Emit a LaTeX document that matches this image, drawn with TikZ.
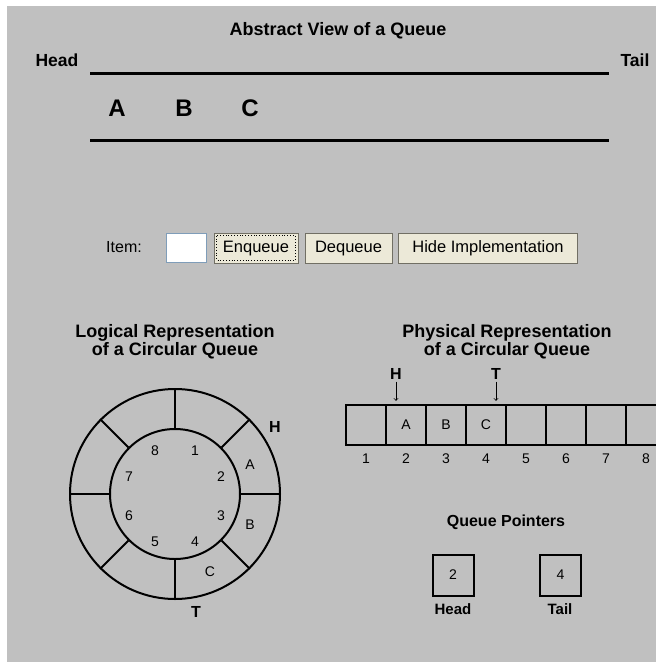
\documentclass[tikz,border=0pt]{standalone}
\usepackage{fontspec}
\setmainfont{Liberation Sans}
\definecolor{panel}{RGB}{192,192,192}
\definecolor{btnface}{RGB}{236,233,216}
\definecolor{btnedge}{RGB}{113,111,100}
\definecolor{fieldedge}{RGB}{127,157,185}
\tikzset{
  heading/.style={font=\fontsize{18}{18}\selectfont\bfseries, align=center, inner sep=0pt},
  endlabel/.style={font=\fontsize{17.5}{17.5}\selectfont\bfseries, inner sep=0pt},
  bigletter/.style={font=\fontsize{24}{24}\selectfont\bfseries, inner sep=0pt},
  smalltext/.style={font=\fontsize{14}{14}\selectfont, inner sep=0pt},
  pointer/.style={font=\fontsize{16}{16}\selectfont\bfseries, inner sep=0pt},
  button/.style={draw=btnedge, fill=btnface, minimum height=30pt, inner sep=0pt, text height=12pt, text depth=4pt, font=\fontsize{16.5}{16.5}\selectfont},
  cellbox/.style={draw, line width=2.4pt, minimum size=40pt, inner sep=0pt, font=\fontsize{14}{14}\selectfont},
  regbox/.style={draw, line width=2pt, minimum size=41pt, inner sep=0pt, font=\fontsize{14}{14}\selectfont},
  ring/.style={draw, circle, line width=2pt, inner sep=0pt},
}
\begin{document}
\begin{tikzpicture}[x=1pt, y=-1pt]
\useasboundingbox (0,0) rectangle (656,662);
\fill[white] (0,0) rectangle (656,662);
\fill[panel] (7,6) rectangle (656,662);

% abstract view
\node[heading] (abs) at (338,31) {Abstract View of a Queue};
\node[endlabel] (head) at (57,60) {Head};
\node[endlabel] (tail) at (635,60) {Tail};
\draw[line width=3pt] (90,73) -- (609,73);
\draw[line width=3pt] (90,140) -- (609,140);
\node[bigletter] (qa) at (117,108) {A};
\node[bigletter] (qb) at (184,108) {B};
\node[bigletter] (qc) at (250,108) {C};

% controls
\node[font=\fontsize{16}{16}\selectfont, inner sep=0pt] (item) at (124,247) {Item:};
\node[draw=fieldedge, fill=white, minimum width=40pt, minimum height=29pt] (field) at (186,247.5) {};
\node[button, minimum width=84pt] (enq) at (256,248) {Enqueue};
\draw[dotted, line width=0.8pt] ([shift={(3,3)}]enq.north west) rectangle ([shift={(-3,-3)}]enq.south east);
\node[button, minimum width=87pt] (deq) at (348.5,248) {Dequeue};
\node[button, minimum width=179pt] (hide) at (488,248) {Hide Implementation};

% logical representation
\node[heading] (logt) at (175,342) {Logical Representation\\of a Circular Queue};
\node[ring, minimum size=210pt] (outer) at (175,494) {};
\node[ring, minimum size=130pt] (inner) at (175,494) {};
\draw[line width=2pt] (inner.0) -- (outer.0);
\draw[line width=2pt] (inner.45) -- (outer.45);
\draw[line width=2pt] (inner.90) -- (outer.90);
\draw[line width=2pt] (inner.135) -- (outer.135);
\draw[line width=2pt] (inner.180) -- (outer.180);
\draw[line width=2pt] (inner.225) -- (outer.225);
\draw[line width=2pt] (inner.270) -- (outer.270);
\draw[line width=2pt] (inner.315) -- (outer.315);
\node[smalltext] (n1) at (195,451) {1};
\node[smalltext] (n2) at (221,477) {2};
\node[smalltext] (n3) at (221,516) {3};
\node[smalltext] (n4) at (195,542) {4};
\node[smalltext] (n5) at (155,542) {5};
\node[smalltext] (n6) at (129,516) {6};
\node[smalltext] (n7) at (129,477) {7};
\node[smalltext] (n8) at (155,451) {8};
\node[smalltext] (ra) at (250,465) {A};
\node[smalltext] (rb) at (250,525) {B};
\node[smalltext] (rc) at (210,572) {C};
\node[pointer] (rh) at (275,427) {H};
\node[pointer] (rt) at (196,612) {T};

% physical representation
\node[heading] (phyt) at (507,342) {Physical Representation\\of a Circular Queue};
\node[cellbox] (c1) at (366,425) {};
\node[cellbox] (c2) at (406,425) {A};
\node[cellbox] (c3) at (446,425) {B};
\node[cellbox] (c4) at (486,425) {C};
\node[cellbox] (c5) at (526,425) {};
\node[cellbox] (c6) at (566,425) {};
\node[cellbox] (c7) at (606,425) {};
\node[cellbox] (c8) at (646,425) {};
\node[smalltext] (i1) at (366,459) {1};
\node[smalltext] (i2) at (406,459) {2};
\node[smalltext] (i3) at (446,459) {3};
\node[smalltext] (i4) at (486,459) {4};
\node[smalltext] (i5) at (526,459) {5};
\node[smalltext] (i6) at (566,459) {6};
\node[smalltext] (i7) at (606,459) {7};
\node[smalltext] (i8) at (646,459) {8};
\node[pointer] (ph) at (396,374) {H};
\node[pointer] (pt) at (496,374) {T};
\draw[->, line width=0.8pt, shorten <=2pt, shorten >=3pt] (ph) -- (ph |- c2.north);
\draw[->, line width=0.8pt, shorten <=2pt, shorten >=3pt] (pt) -- (pt |- c4.north);

% queue pointers
\node[pointer] (qp) at (506,522) {Queue Pointers};
\node[regbox] (hreg) at (453,575) {2};
\node[regbox] (treg) at (560.5,575) {4};
\node[pointer, font=\fontsize{15}{15}\selectfont\bfseries] (hlab) at (453,609) {Head};
\node[pointer, font=\fontsize{15}{15}\selectfont\bfseries] (tlab) at (560,609) {Tail};
\end{tikzpicture}
\end{document}
